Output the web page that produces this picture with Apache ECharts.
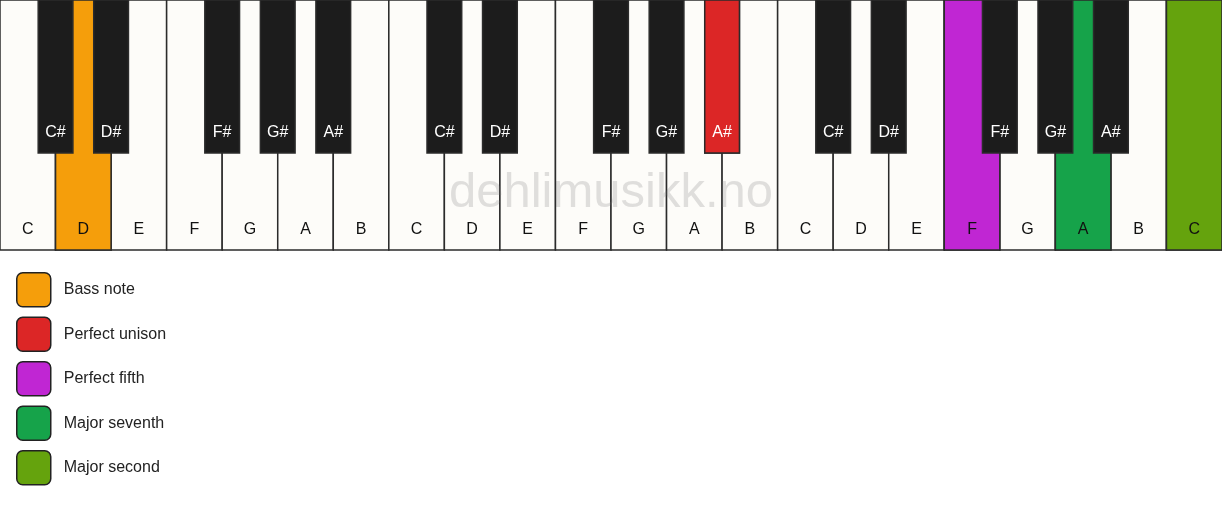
<!DOCTYPE html>
<html lang="en">
<head>
  <meta charset="UTF-8">
  <title>Piano chord</title>
  <style>
    html, body { margin: 0; padding: 0; overflow: hidden; background: #fff; }
    #chart { width: 1222px; height: 506px; }
  </style>
</head>
<body>
  <div id="chart"></div>
</body>
<script src="https://cdn.jsdelivr.net/npm/echarts@6/dist/echarts.min.js"></script>
<script>
  // white keys from left to right, black keys sit on the boundary after white key n
  var whiteNotes = ['C', 'D', 'E', 'F', 'G', 'A', 'B', 'C', 'D', 'E', 'F', 'G', 'A', 'B',
    'C', 'D', 'E', 'F', 'G', 'A', 'B', 'C'];
  var blackPos = [1, 2, 4, 5, 6, 8, 9, 11, 12, 13, 15, 16, 18, 19, 20];
  var blackNotes = ['C#', 'D#', 'F#', 'G#', 'A#', 'C#', 'D#', 'F#', 'G#', 'A#', 'C#', 'D#', 'F#', 'G#', 'A#'];

  // highlighted keys (legend order)
  var roleNames = ['Bass note', 'Perfect unison', 'Perfect fifth', 'Major seventh', 'Major second'];
  var roleColors = ['#f59e0b', '#dc2626', '#c026d3', '#16a34a', '#65a30d'];
  var roleKind = ['white', 'black', 'white', 'white', 'white'];
  var roleKey = [1, 13, 17, 19, 21]; // white index or black boundary

  var WHITE_FILL = '#fdfcf9';
  var BLACK_FILL = '#1c1c1c';
  var EDGE = '#2b2b2b';
  var FONT = "'Liberation Sans', Arial, sans-serif";
  var BLACK_LEN = 0.612; // share of white key length
  var BLACK_W = 0.625;   // share of white key width

  const myChart = echarts.init(document.getElementById('chart'));

  // labels and fills come from the arrays, the key position from the data value
  function whiteRender(labels, fills) {
    return function (params, api) {
      var i = api.value(0);
      var p0 = api.coord([i, 1]);
      var p1 = api.coord([i + 1, 0]);
      return {
        type: 'group',
        children: [{
          type: 'rect',
          shape: { x: p0[0], y: p0[1], width: p1[0] - p0[0], height: p1[1] - p0[1] },
          style: { fill: fills[params.dataIndex], stroke: EDGE, lineWidth: 1.5 }
        }, {
          type: 'text',
          style: {
            text: labels[params.dataIndex], x: (p0[0] + p1[0]) / 2, y: p1[1] - 20,
            fill: '#111', fontSize: 16, fontFamily: FONT,
            align: 'center', verticalAlign: 'middle'
          }
        }]
      };
    };
  }

  function blackRender(labels, fills) {
    return function (params, api) {
      var b = api.value(0);
      var p0 = api.coord([b - BLACK_W / 2, 1]);
      var p1 = api.coord([b + BLACK_W / 2, 1 - BLACK_LEN]);
      return {
        type: 'group',
        children: [{
          type: 'rect',
          shape: { x: p0[0], y: p0[1], width: p1[0] - p0[0], height: p1[1] - p0[1] },
          style: { fill: fills[params.dataIndex], stroke: EDGE, lineWidth: 1.5 }
        }, {
          type: 'text',
          style: {
            text: labels[params.dataIndex], x: (p0[0] + p1[0]) / 2, y: p1[1] - 20,
            fill: '#fff', fontSize: 16, fontFamily: FONT,
            align: 'center', verticalAlign: 'middle'
          }
        }]
      };
    };
  }

  var series = [{
    type: 'custom',
    name: 'white',
    renderItem: whiteRender(whiteNotes, whiteNotes.map(function () { return WHITE_FILL; })),
    z: 1,
    silent: true,
    data: whiteNotes.map(function (n, i) { return [i, 0]; })
  }, {
    type: 'custom',
    name: 'black',
    renderItem: blackRender(blackNotes, blackNotes.map(function () { return BLACK_FILL; })),
    z: 3,
    silent: true,
    data: blackPos.map(function (b) { return [b, 0]; })
  }];

  roleNames.forEach(function (name, k) {
    var isWhite = roleKind[k] === 'white';
    var key = roleKey[k];
    var label = isWhite ? whiteNotes[key] : blackNotes[blackPos.indexOf(key)];
    series.push({
      type: 'custom',
      name: name,
      renderItem: (isWhite ? whiteRender : blackRender)([label], [roleColors[k]]),
      z: isWhite ? 2 : 4,
      silent: true,
      itemStyle: { color: roleColors[k] },
      data: [[key, 0]]
    });
  });

  var option = {
    animation: false,
    grid: { left: 0, right: 0, top: 0, height: 250 },
    xAxis: { type: 'value', min: 0, max: whiteNotes.length, show: false },
    yAxis: { type: 'value', min: 0, max: 1, show: false },
    legend: {
      data: roleNames,
      orient: 'vertical',
      left: 16,
      top: 272,
      padding: 0,
      itemWidth: 34,
      itemHeight: 34,
      itemGap: 9,
      selectedMode: false,
      icon: 'path://M6,0H28A6,6 0 0 1 34,6V28A6,6 0 0 1 28,34H6A6,6 0 0 1 0,28V6A6,6 0 0 1 6,0Z',
      itemStyle: { borderColor: '#222', borderWidth: 1.5 },
      textStyle: {
        fontSize: 16, color: '#222', fontFamily: FONT,
        padding: [0, 0, 0, 8]
      }
    },
    graphic: [{
      type: 'text',
      z: 100,
      silent: true,
      style: {
        text: 'dehlimusikk.no', x: 611, y: 193,
        fill: 'rgba(120,120,120,0.22)', fontSize: 49, fontFamily: FONT,
        align: 'center', verticalAlign: 'middle'
      }
    }],
    series: series
  };
  myChart.setOption(option);
</script>
</html>
